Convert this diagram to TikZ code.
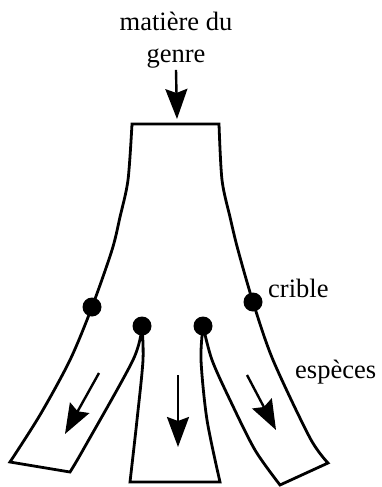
\documentclass[tikz,border=0pt]{standalone}
\usepackage{fontspec}
\setmainfont{Liberation Serif}
\usetikzlibrary{arrows.meta}
\tikzset{
  flow/.style={line width=2.4pt,-{Stealth[length=30pt,width=22pt,inset=4pt]}},
  wall/.style={line width=2.8pt,line join=miter},
  sieve/.style={fill=black,draw=none}
}
\begin{document}
\begin{tikzpicture}[x=1pt,y=-1pt,font=\fontsize{26.5}{32}\selectfont]
\useasboundingbox (0,0) rectangle (381,487);
\path
 (132,124) coordinate (topL)
 (219,124) coordinate (topR)
 (92,307)  coordinate (L)
 (253,302) coordinate (R)
 (142,326) coordinate (ML)
 (203,326) coordinate (MR)
 (177,119) coordinate (feed)
 (99,373)  coordinate (s1)  (65,434)  coordinate (e1)
 (178,375) coordinate (s2)  (178,447) coordinate (e2)
 (247,375) coordinate (s3)  (276,430) coordinate (e3)
;

\node[align=center, anchor=base, inner sep=1pt] (genus) at (176,63) {matière du\\genre};
\node[anchor=base west, inner sep=0pt] (crible) at (268,297) {crible};
\node[anchor=base west, inner sep=0pt] (especes) at (295,378) {espèces};

% tronc et branches
\draw[wall]
   plot[smooth] coordinates {(10,462) (40,415) (70,360) (L) (112,250) (120,217) (128,180) (topL)}
   -- (topR)
   -- plot[smooth] coordinates {(topR) (222,180) (230,217) (238,250) (R) (273,360) (310,438) (328,463)}
   -- (280,485)
   -- plot[smooth] coordinates {(280,485) (255,450) (230,400) (212,360) (MR)}
   -- plot[smooth] coordinates {(MR) (201,360) (207,420) (220,482)}
   -- (130,482)
   -- plot[smooth] coordinates {(130,482) (137,420) (143,360) (ML)}
   -- plot[smooth] coordinates {(ML) (133,360) (83,450) (70,472)}
   -- cycle
;

\foreach \p in {L,R,ML,MR}
  \fill[sieve] (\p) circle[radius=9.5];

\draw[flow] (genus.south) -- (feed);
\draw[flow] (s1) -- (e1);
\draw[flow] (s2) -- (e2);
\draw[flow] (s3) -- (e3);
\end{tikzpicture}
\end{document}
